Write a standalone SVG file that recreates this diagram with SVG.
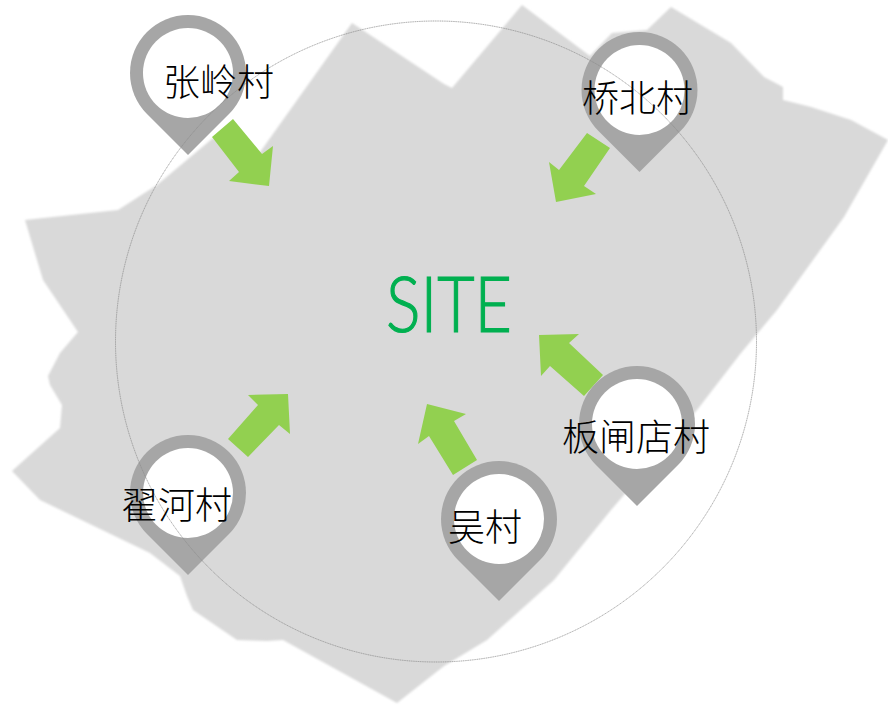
<svg xmlns="http://www.w3.org/2000/svg" width="888" height="706" viewBox="0 0 888 706">
<style>
.pin{fill:#A6A6A6}
.hole{fill:#fff}
.arrow{fill:#92D050}
.label{font-family:"Noto Sans CJK SC","Liberation Sans",sans-serif;font-size:37px;font-weight:300;fill:#000}
</style>
<defs>
<filter id="soft" x="-5%" y="-5%" width="110%" height="110%"><feGaussianBlur stdDeviation="0.9"/></filter>
<g id="pinShape">
<path class="pin" d="M-41 41A58 58 0 1 1 41 41L0 82Z"/>
<circle class="hole" r="45"/>
</g>
</defs>
<rect width="888" height="706" fill="#fff"/>
<path id="land" filter="url(#soft)" fill="#D9D9D9" d="M25 220L118 210L157 185L213 138L258 155L352 23L444 84L452 88L522 5L590 56L612 33L647 30L671 7L731 43L764 77L783 87L783 100L811 107L851 120L888 140L844 217L777 310L741 353L697 410L611 510L554 580L487 640L444 666L397 703L283 640L267 641L237 640L193 610L187 596L180 576L150 553L40 500L12 471L60 428L62 405L50 385L48 376L60 353L78 332L43 280Z"/>
<g id="connectors">
<polygon class="arrow" points="212,137 233,119 262,154 273,146 269,186 229,181 239,172"/>
<polygon class="arrow" points="587,133 610,148 584,186 596,194 556,202 549,162 559,170"/>
<polygon class="arrow" points="228,439 248,457 279,425 290,434 288,394 248,395 258,405"/>
<polygon class="arrow" points="453,475 477,460 454,421 466,414 427,404 418,444 429,436"/>
<polygon class="arrow" points="603,375 584,396 550,366 541,376 539,335 579,334 569,343"/>
</g>
<g id="node-zhangling"><use href="#pinShape" x="188" y="73"/></g>
<g id="node-qiaobei"><use href="#pinShape" x="639.5" y="90"/></g>
<g id="node-dihe"><use href="#pinShape" x="188" y="493"/></g>
<g id="node-wu"><use href="#pinShape" x="499" y="519"/></g>
<g id="node-banzhadian"><use href="#pinShape" x="637" y="424"/></g>
<circle id="ring" cx="436" cy="341.5" r="320.5" fill="none" stroke="#8C8C8C" stroke-width="0.8" stroke-dasharray="1.2 0.6"/>
<text class="label" x="163" y="96">张岭村</text>
<text class="label" x="582" y="112">桥北村</text>
<text class="label" x="121" y="519">翟河村</text>
<text class="label" x="448" y="541">吴村</text>
<text class="label" x="562" y="451">板闸店村</text>
<text id="site" x="386" y="332" textLength="126" lengthAdjust="spacingAndGlyphs" font-family="Lato,'Liberation Sans',sans-serif" font-weight="300" font-size="76" fill="#00B050" stroke="#00B050" stroke-width="1.2">SITE</text>
</svg>
